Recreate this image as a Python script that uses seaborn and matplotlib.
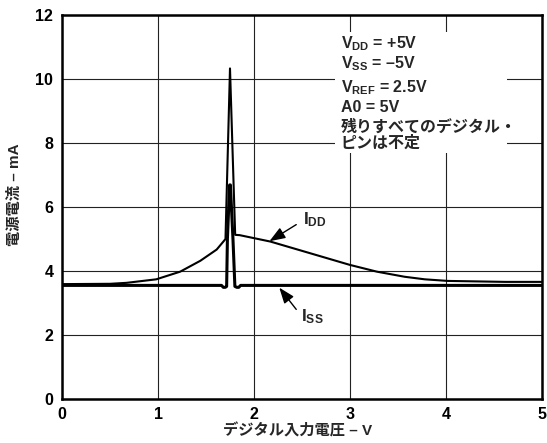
import matplotlib
matplotlib.use("Agg")
import matplotlib.pyplot as plt
from matplotlib.patches import Rectangle
import seaborn as sns
import pandas as pd

# ---- data ----
idd_x = [0.0, 0.50, 0.67, 0.98, 1.23, 1.44, 1.61, 1.68, 1.702, 1.749, 1.803, 1.85,
         2.17, 2.50, 3.00, 3.28, 3.57, 3.78, 4.02, 4.62, 5.0]
idd_y = [3.59, 3.60, 3.63, 3.74, 3.98, 4.32, 4.67, 4.92, 5.00, 10.33, 5.13, 5.12,
         4.92, 4.63, 4.19, 3.98, 3.82, 3.74, 3.69, 3.66, 3.66]

iss_x = [0.0, 1.66, 1.68, 1.70, 1.714, 1.722, 1.745, 1.753, 1.78, 1.80, 1.82, 1.84, 1.86, 5.0]
iss_y = [3.55, 3.55, 3.49, 3.49, 3.52, 5.00, 6.69, 6.69, 5.00, 3.52, 3.49, 3.49, 3.55, 3.55]

x_ticks = [0, 1, 2, 3, 4, 5]
y_ticks = [0, 2, 4, 6, 8, 10, 12]

cond_lines = ["V$_{\\mathrm{DD}}$ = +5V", "V$_{\\mathrm{SS}}$ = \u20135V",
              "V$_{\\mathrm{REF}}$ = 2.5V", "A0 = 5V",
              "残りすべてのデジタル・", "ピンは不定"]
xlabel = "デジタル入力電圧 \u2013 V"
ylabel = "電源電流 \u2013 mA"

# ---- style ----
sns.set_theme(style="white")
fam = ["Liberation Sans", "Noto Sans CJK JP", "DejaVu Sans"]
plt.rcParams["font.family"] = fam
plt.rcParams["font.weight"] = "bold"
plt.rcParams["mathtext.fontset"] = "custom"
plt.rcParams["mathtext.rm"] = "Liberation Sans:bold"
plt.rcParams["mathtext.it"] = "Liberation Sans:bold"
plt.rcParams["mathtext.bf"] = "Liberation Sans:bold"
plt.rcParams["mathtext.sf"] = "Liberation Sans:bold"

fig = plt.figure(figsize=(5.47, 4.43), dpi=100)
ax = fig.add_axes([62.3 / 547, 44 / 443, (541.7 - 62.3) / 547, 384 / 443])

df_idd = pd.DataFrame({"x": idd_x, "y": idd_y})
df_iss = pd.DataFrame({"x": iss_x, "y": iss_y})
sns.lineplot(data=df_iss, x="x", y="y", ax=ax, color="black", lw=2.2,
             estimator=None, sort=False, zorder=3)
sns.lineplot(data=df_idd, x="x", y="y", ax=ax, color="black", lw=1.5,
             estimator=None, sort=False, zorder=4)

ax.set_xlim(0, 5)
ax.set_ylim(0, 12)
ax.set_xticks(x_ticks)
ax.set_yticks(y_ticks)
ax.set_xticklabels([str(t) for t in x_ticks], fontsize=11.5, fontweight="bold")
ax.set_yticklabels([str(t) for t in y_ticks], fontsize=11.5, fontweight="bold")
ax.tick_params(axis="both", length=0, colors="black")
ax.tick_params(axis="y", pad=6.5)
ax.tick_params(axis="x", pad=5.5)
ax.set_axisbelow(True)
ax.grid(True, color="#222222", lw=0.8)
for s in ax.spines.values():
    s.set_visible(True)
    s.set_color("black")
    s.set_linewidth(1.8)

ax.set_xlabel(xlabel, fontsize=11, fontweight="bold", va="center")
ax.set_ylabel(ylabel, fontsize=11, fontweight="bold", va="center")
ax.xaxis.set_label_coords(0.491, -0.083)
ax.yaxis.set_label_coords(-0.099, 0.531)

# white box behind conditions text (covers the grid)
ax.add_patch(Rectangle((2.84, 7.69), 1.80, 3.78, facecolor="white",
                       edgecolor="none", zorder=1.5))
cond_y = [10.96, 10.33, 9.60, 8.98, 8.36, 7.85]
for txt, yy in zip(cond_lines, cond_y):
    ax.text(2.906, yy, txt, fontsize=11.5,
            fontweight="bold", ha="left", va="baseline", zorder=5)

# curve labels with arrows
ax.text(2.507, 5.45, "I$_{\\mathrm{DD}}$", fontsize=12.5, fontweight="bold",
        ha="left", va="baseline", zorder=5)
ax.annotate("", xy=(2.16, 4.93), xytext=(2.44, 5.45),
            arrowprops=dict(arrowstyle="-|>,head_length=0.8,head_width=0.3",
                            color="black", lw=1.0, mutation_scale=12,
                            shrinkA=0, shrinkB=0), zorder=5)
ax.text(2.49, 2.44, "I$_{\\mathrm{SS}}$", fontsize=12.5, fontweight="bold",
        ha="left", va="baseline", zorder=5)
ax.annotate("", xy=(2.263, 3.48), xytext=(2.44, 2.80),
            arrowprops=dict(arrowstyle="-|>,head_length=0.8,head_width=0.3",
                            color="black", lw=1.0, mutation_scale=12,
                            shrinkA=0, shrinkB=0), zorder=5)

fig.savefig("out.png", dpi=100)
